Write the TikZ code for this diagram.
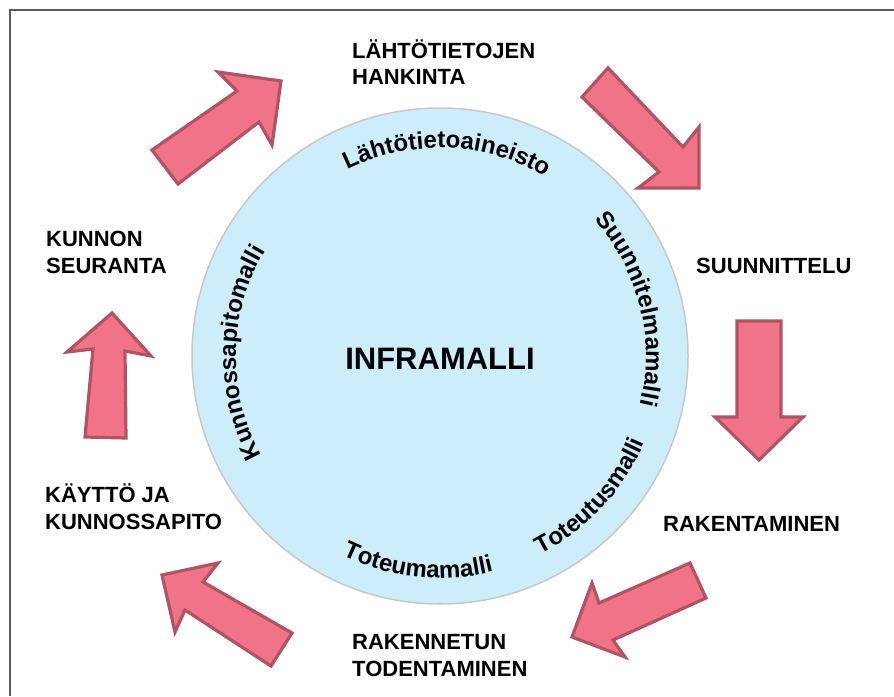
\documentclass[tikz,border=0pt]{standalone}
\usepackage{fontspec}
\setmainfont{Liberation Sans}
\usetikzlibrary{decorations.text,calc}
\definecolor{arrowfill}{RGB}{240,115,135}
\definecolor{arrowline}{RGB}{176,84,100}
\definecolor{circfill}{RGB}{204,237,249}
\definecolor{circline}{RGB}{200,200,200}
\definecolor{frameline}{RGB}{90,90,90}
\newcommand{\lblfont}{\fontsize{22}{26}\selectfont\bfseries}
\newcommand{\arcfont}{\fontsize{24}{28}\selectfont\bfseries}
\tikzset{
  bigarrow/.style={fill=arrowfill, draw=arrowline, line width=3.2pt, line join=miter},
  lbl/.style={anchor=base west, inner sep=0pt, font=\lblfont},
  arctext/.style={decorate, decoration={text along path, text align=center, text={|\arcfont|#1}}}
}
\begin{document}
\begin{tikzpicture}[x=1pt,y=1pt]
\useasboundingbox (0,0) rectangle (894,-696);
\fill[white] (0,0) rectangle (894,-696);
% frame
\draw[frameline, line width=2pt] (10,-696) -- (10,-10) -- (894,-10);
% circle
\coordinate (C) at (440,-356);
\fill[circfill] (C) circle[radius=248];
\draw[circline, line width=1.5pt] (C) circle[radius=248];
% arrows
\draw[bigarrow] (152,-150) -- (237,-91) -- (218,-72) -- (281,-81) -- (272,-145) -- (259,-122) -- (178,-184) -- cycle;
\draw[bigarrow] (608,-68) -- (683,-147) -- (699,-127) -- (699,-188) -- (638,-188) -- (659,-172) -- (582,-97) -- cycle;
\draw[bigarrow] (737,-321) -- (781,-321) -- (781,-417) -- (803,-417) -- (759,-460) -- (715,-417) -- (737,-417) -- cycle;
\draw[bigarrow] (690,-563) -- (706,-598) -- (613,-640) -- (625,-657) -- (572,-637) -- (592,-583) -- (599,-603) -- cycle;
\draw[bigarrow] (162,-575) -- (218,-563) -- (203,-582) -- (292,-633) -- (271,-666) -- (185,-610) -- (175,-632) -- cycle;
\draw[bigarrow] (112,-313) -- (151,-356) -- (125,-351) -- (126,-438) -- (85,-437) -- (93,-349) -- (67,-352) -- cycle;
% centre text
\node[anchor=base, inner sep=0pt, font=\fontsize{31}{35}\selectfont\bfseries] (infra) at (440,-369) {INFRAMALLI};
% curved texts
\path[arctext={Lähtötietoaineisto}] ($(C)+(130:208)$) arc[start angle=130, end angle=46, radius=208];
\path[arctext={Suunnitelmamalli}] ($(C)+(62:206)$) arc[start angle=62, end angle=-34, radius=206];
\path[arctext={Toteutusmalli}] ($(C)+(-82:222)$) arc[start angle=-82, end angle=-4, radius=222];
\path[arctext={Toteumamalli}] ($(C)+(-136:222)$) arc[start angle=-136, end angle=-56, radius=222];
\path[arctext={Kunnossapitomalli}] ($(C)+(226:204)$) arc[start angle=226, end angle=132, radius=204];
% labels
\node[lbl] (l1a) at (352,-58) {LÄHTÖTIETOJEN};
\node[lbl] (l1b) at (352,-84) {HANKINTA};
\node[lbl] (l2) at (696,-273) {SUUNNITTELU};
\node[lbl] (l3) at (663,-531) {RAKENTAMINEN};
\node[lbl] (l4a) at (352,-649) {RAKENNETUN};
\node[lbl] (l4b) at (352,-676) {TODENTAMINEN};
\node[lbl] (l5a) at (45,-502) {KÄYTTÖ JA};
\node[lbl] (l5b) at (45,-529) {KUNNOSSAPITO};
\node[lbl] (l6a) at (46,-246) {KUNNON};
\node[lbl] (l6b) at (46,-273) {SEURANTA};
\end{tikzpicture}
\end{document}
